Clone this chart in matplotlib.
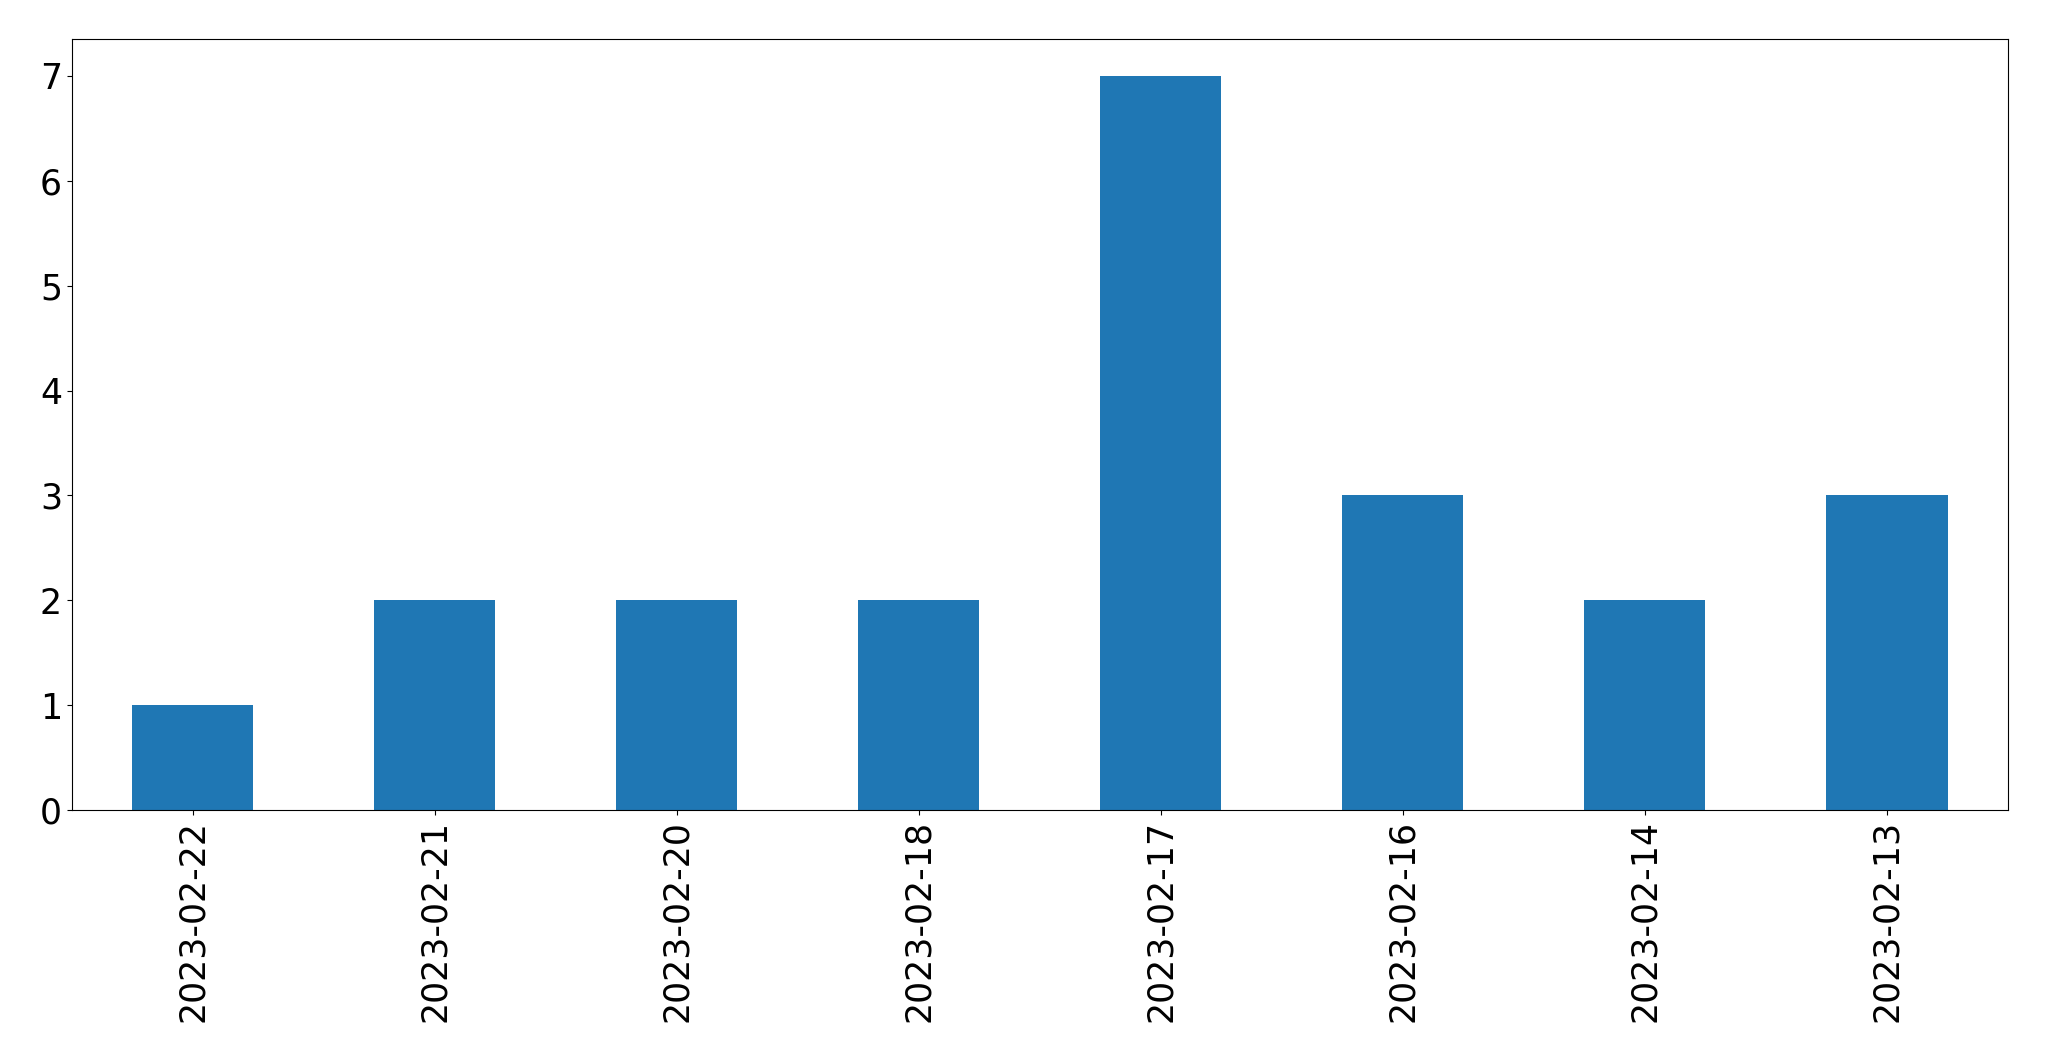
import matplotlib
matplotlib.use("Agg")
import matplotlib.pyplot as plt
import numpy as np

# data
dates = ["2023-02-22", "2023-02-21", "2023-02-20", "2023-02-18",
         "2023-02-17", "2023-02-16", "2023-02-14", "2023-02-13"]
counts = [1, 2, 2, 2, 7, 3, 2, 3]

fig, ax = plt.subplots(figsize=(20.49, 10.61), dpi=100)
fig.subplots_adjust(left=0.035, right=0.980, top=0.963, bottom=0.2365)

x = np.arange(len(dates))
ax.bar(x, counts, width=0.5, color="#1f77b4")
ax.set_xticks(x)
ax.set_xticklabels(dates, rotation=90)
ax.set_xlim(-0.5, len(dates) - 0.5)
ax.tick_params(labelsize=25)

plt.savefig("out.png", dpi=100)
